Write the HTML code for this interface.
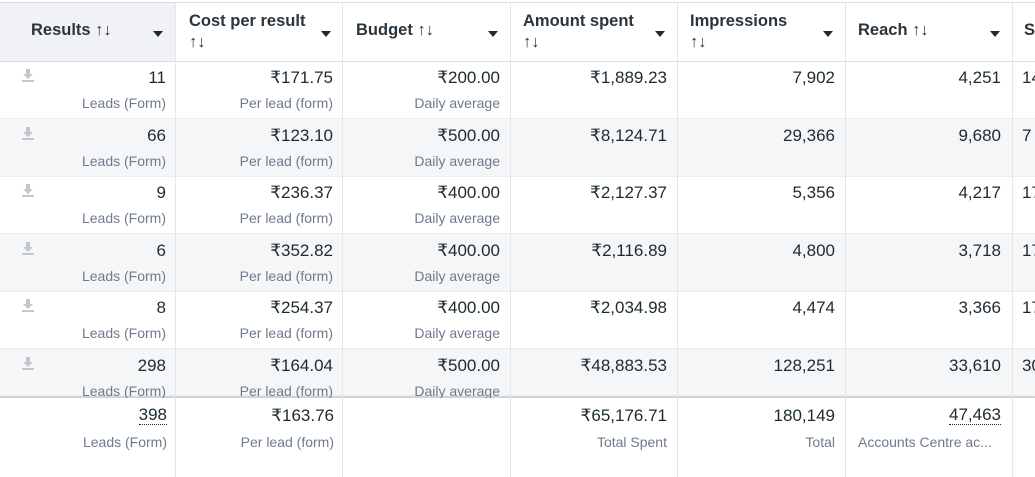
<!DOCTYPE html>
<html><head><meta charset="utf-8"><style>
body{margin:0;width:1035px;height:477px;overflow:hidden;background:#fff;font-family:"Liberation Sans",sans-serif;color:#1c2b33;position:relative}
.a{position:absolute}
.v{position:absolute;font-size:17px;text-align:right;white-space:nowrap}
.s{position:absolute;font-size:14px;color:#6d7b8a;text-align:right;white-space:nowrap}
.h{position:absolute;font-size:16.5px;font-weight:bold;color:#2a353d;line-height:21px;white-space:nowrap}
.tri{position:absolute;width:0;height:0;border-left:5px solid transparent;border-right:5px solid transparent;border-top:6px solid #1c2b33}
.vl{position:absolute;width:1px;background:#e4e6eb}
.dl{position:absolute;left:22px;width:12px;height:13px}
</style></head><body>
<div class="a" style="left:0;top:2px;width:1035px;height:1px;background:#dadde1"></div>
<div class="a" style="left:0;top:3px;width:175px;height:59px;background:#f0f2f5"></div>
<div class="a" style="left:0;top:61px;width:1035px;height:1px;background:#dadde1"></div>
<div class="a" style="left:0;top:119px;width:1035px;height:58px;background:#f5f6f7"></div>
<div class="a" style="left:0;top:234px;width:1035px;height:58px;background:#f5f6f7"></div>
<div class="a" style="left:0;top:349px;width:1035px;height:48px;background:#f5f6f7"></div>
<div class="a" style="left:0;top:118px;width:1035px;height:1px;background:#ebedf0"></div>
<div class="a" style="left:0;top:176px;width:1035px;height:1px;background:#ebedf0"></div>
<div class="a" style="left:0;top:233px;width:1035px;height:1px;background:#ebedf0"></div>
<div class="a" style="left:0;top:291px;width:1035px;height:1px;background:#ebedf0"></div>
<div class="a" style="left:0;top:348px;width:1035px;height:1px;background:#ebedf0"></div>
<div class="a" style="left:0;top:396px;width:1035px;height:2px;background:#d0d3d7;box-shadow:0 1px 3px rgba(0,0,0,.15)"></div>
<div class="vl" style="left:175px;top:3px;height:474px"></div>
<div class="vl" style="left:342px;top:3px;height:474px"></div>
<div class="vl" style="left:510px;top:3px;height:474px"></div>
<div class="vl" style="left:677px;top:3px;height:474px"></div>
<div class="vl" style="left:845px;top:3px;height:474px"></div>
<div class="vl" style="left:1012px;top:3px;height:474px"></div>

<div class="h" style="left:31px;top:20px">Results ↑↓</div><div class="tri" style="left:153px;top:31px"></div>
<div class="h" style="left:189px;top:11px">Cost per result<br>↑↓</div><div class="tri" style="left:321px;top:31px"></div>
<div class="h" style="left:356px;top:20px">Budget ↑↓</div><div class="tri" style="left:488px;top:31px"></div>
<div class="h" style="left:523px;top:11px">Amount spent<br>↑↓</div><div class="tri" style="left:655px;top:31px"></div>
<div class="h" style="left:690px;top:11px">Impressions<br>↑↓</div><div class="tri" style="left:823px;top:31px"></div>
<div class="h" style="left:858px;top:20px">Reach ↑↓</div><div class="tri" style="left:990px;top:31px"></div>
<div class="h" style="left:1024px;top:20px">S</div>

<svg class="dl" style="top:69px" viewBox="0 0 12 13"><path d="M4 0h4v5h3L6 10 1 5h3z" fill="#c3c7cc"/><rect x="0" y="11" width="12" height="2" fill="#c3c7cc"/></svg>
<svg class="dl" style="top:127px" viewBox="0 0 12 13"><path d="M4 0h4v5h3L6 10 1 5h3z" fill="#c3c7cc"/><rect x="0" y="11" width="12" height="2" fill="#c3c7cc"/></svg>
<svg class="dl" style="top:184px" viewBox="0 0 12 13"><path d="M4 0h4v5h3L6 10 1 5h3z" fill="#c3c7cc"/><rect x="0" y="11" width="12" height="2" fill="#c3c7cc"/></svg>
<svg class="dl" style="top:242px" viewBox="0 0 12 13"><path d="M4 0h4v5h3L6 10 1 5h3z" fill="#c3c7cc"/><rect x="0" y="11" width="12" height="2" fill="#c3c7cc"/></svg>
<svg class="dl" style="top:299px" viewBox="0 0 12 13"><path d="M4 0h4v5h3L6 10 1 5h3z" fill="#c3c7cc"/><rect x="0" y="11" width="12" height="2" fill="#c3c7cc"/></svg>
<svg class="dl" style="top:357px" viewBox="0 0 12 13"><path d="M4 0h4v5h3L6 10 1 5h3z" fill="#c3c7cc"/><rect x="0" y="11" width="12" height="2" fill="#c3c7cc"/></svg>

<div class="v" style="right:869px;top:68px">11</div><div class="s" style="right:869px;top:95px">Leads (Form)</div>
<div class="v" style="right:702px;top:68px">₹171.75</div><div class="s" style="right:702px;top:95px">Per lead (form)</div>
<div class="v" style="right:535px;top:68px">₹200.00</div><div class="s" style="right:535px;top:95px">Daily average</div>
<div class="v" style="right:368px;top:68px">₹1,889.23</div>
<div class="v" style="right:200px;top:68px">7,902</div>
<div class="v" style="right:34px;top:68px">4,251</div><div class="v" style="left:1022px;top:68px">14</div>

<div class="v" style="right:869px;top:126px">66</div><div class="s" style="right:869px;top:153px">Leads (Form)</div>
<div class="v" style="right:702px;top:126px">₹123.10</div><div class="s" style="right:702px;top:153px">Per lead (form)</div>
<div class="v" style="right:535px;top:126px">₹500.00</div><div class="s" style="right:535px;top:153px">Daily average</div>
<div class="v" style="right:368px;top:126px">₹8,124.71</div>
<div class="v" style="right:200px;top:126px">29,366</div>
<div class="v" style="right:34px;top:126px">9,680</div><div class="v" style="left:1022px;top:126px">7</div>

<div class="v" style="right:869px;top:183px">9</div><div class="s" style="right:869px;top:210px">Leads (Form)</div>
<div class="v" style="right:702px;top:183px">₹236.37</div><div class="s" style="right:702px;top:210px">Per lead (form)</div>
<div class="v" style="right:535px;top:183px">₹400.00</div><div class="s" style="right:535px;top:210px">Daily average</div>
<div class="v" style="right:368px;top:183px">₹2,127.37</div>
<div class="v" style="right:200px;top:183px">5,356</div>
<div class="v" style="right:34px;top:183px">4,217</div><div class="v" style="left:1022px;top:183px">17</div>

<div class="v" style="right:869px;top:241px">6</div><div class="s" style="right:869px;top:268px">Leads (Form)</div>
<div class="v" style="right:702px;top:241px">₹352.82</div><div class="s" style="right:702px;top:268px">Per lead (form)</div>
<div class="v" style="right:535px;top:241px">₹400.00</div><div class="s" style="right:535px;top:268px">Daily average</div>
<div class="v" style="right:368px;top:241px">₹2,116.89</div>
<div class="v" style="right:200px;top:241px">4,800</div>
<div class="v" style="right:34px;top:241px">3,718</div><div class="v" style="left:1022px;top:241px">17</div>

<div class="v" style="right:869px;top:298px">8</div><div class="s" style="right:869px;top:325px">Leads (Form)</div>
<div class="v" style="right:702px;top:298px">₹254.37</div><div class="s" style="right:702px;top:325px">Per lead (form)</div>
<div class="v" style="right:535px;top:298px">₹400.00</div><div class="s" style="right:535px;top:325px">Daily average</div>
<div class="v" style="right:368px;top:298px">₹2,034.98</div>
<div class="v" style="right:200px;top:298px">4,474</div>
<div class="v" style="right:34px;top:298px">3,366</div><div class="v" style="left:1022px;top:298px">17</div>

<div class="v" style="right:869px;top:356px">298</div><div class="s" style="right:869px;top:383px">Leads (Form)</div>
<div class="v" style="right:702px;top:356px">₹164.04</div><div class="s" style="right:702px;top:383px">Per lead (form)</div>
<div class="v" style="right:535px;top:356px">₹500.00</div><div class="s" style="right:535px;top:383px">Daily average</div>
<div class="v" style="right:368px;top:356px">₹48,883.53</div>
<div class="v" style="right:200px;top:356px">128,251</div>
<div class="v" style="right:34px;top:356px">33,610</div><div class="v" style="left:1022px;top:356px">30</div>

<div class="a" style="left:0;top:398px;width:1035px;height:79px;background:#fff"></div>
<div class="vl" style="left:175px;top:398px;height:79px"></div>
<div class="vl" style="left:342px;top:398px;height:79px"></div>
<div class="vl" style="left:510px;top:398px;height:79px"></div>
<div class="vl" style="left:677px;top:398px;height:79px"></div>
<div class="vl" style="left:845px;top:398px;height:79px"></div>
<div class="vl" style="left:1012px;top:398px;height:79px"></div>

<div class="v" style="right:868px;top:406px;border-bottom:1px dotted #1c2b33;line-height:18px">398</div><div class="s" style="right:868px;top:434px">Leads (Form)</div>
<div class="v" style="right:701px;top:406px">₹163.76</div><div class="s" style="right:701px;top:434px">Per lead (form)</div>
<div class="v" style="right:368px;top:406px">₹65,176.71</div><div class="s" style="right:368px;top:434px">Total Spent</div>
<div class="v" style="right:200px;top:406px">180,149</div><div class="s" style="right:200px;top:434px">Total</div>
<div class="v" style="right:34px;top:406px;border-bottom:1px dotted #1c2b33;line-height:18px">47,463</div><div class="s" style="left:858px;top:434px">Accounts Centre ac...</div>
</body></html>
